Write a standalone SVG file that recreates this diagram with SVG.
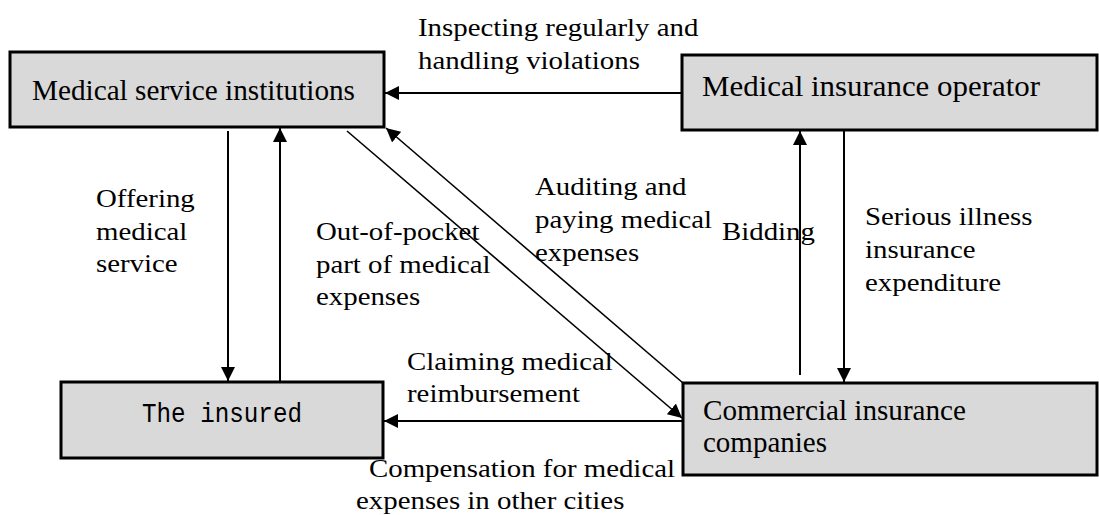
<svg xmlns="http://www.w3.org/2000/svg" width="1099" height="515" viewBox="0 0 1099 515">
<defs>
<style>
.box{fill:#d9d9d9;stroke:#000;stroke-width:3}
.bt{font-family:"Liberation Serif","Times New Roman",serif;font-size:29px;fill:#000}
.mono{font-family:"Liberation Mono","Courier New",monospace;font-size:27px;fill:#000}
.lbl{font-family:"Liberation Serif","Times New Roman",serif;font-size:26px;fill:#000}
.c{stroke:#000;stroke-width:2;fill:none}
.d{stroke:#000;stroke-width:1.6;fill:none}
</style>
<marker id="ah" markerUnits="userSpaceOnUse" markerWidth="15" markerHeight="15" refX="14" refY="7" orient="auto" viewBox="0 0 15 15">
<path d="M0,0 L14,7 L0,14 z" fill="#000"/>
</marker>
</defs>
<rect width="1099" height="515" fill="#fff"/>
<g id="connectors">
<line class="c" x1="682" y1="93" x2="385" y2="93" marker-end="url(#ah)"/>
<line class="c" x1="228" y1="131" x2="228" y2="381" marker-end="url(#ah)"/>
<line class="c" x1="280" y1="382" x2="280" y2="128" marker-end="url(#ah)"/>
<line class="d" x1="347" y1="131" x2="682" y2="418" marker-end="url(#ah)"/>
<line class="d" x1="683" y1="383" x2="386" y2="128" marker-end="url(#ah)"/>
<line class="c" x1="683" y1="421" x2="384" y2="421" marker-end="url(#ah)"/>
<line class="c" x1="800" y1="375" x2="800" y2="131" marker-end="url(#ah)"/>
<line class="c" x1="844" y1="130" x2="844" y2="382" marker-end="url(#ah)"/>
<g id="labels">
<text class="lbl" transform="translate(418,36) scale(1.11,1)"><tspan x="0" y="0">Inspecting regularly and</tspan><tspan x="0" y="33">handling violations</tspan></text>
<text class="lbl" transform="translate(96,207) scale(1.11,1)"><tspan x="0" y="0">Offering</tspan><tspan x="0" y="33">medical</tspan><tspan x="0" y="65">service</tspan></text>
<text class="lbl" transform="translate(316,240) scale(1.11,1)"><tspan x="0" y="0">Out-of-pocket</tspan><tspan x="0" y="33">part of medical</tspan><tspan x="0" y="65">expenses</tspan></text>
<text class="lbl" transform="translate(535,195) scale(1.11,1)"><tspan x="0" y="0">Auditing and</tspan><tspan x="0" y="33">paying medical</tspan><tspan x="0" y="66">expenses</tspan></text>
<text class="lbl" transform="translate(722,240) scale(1.11,1)">Bidding</text>
<text class="lbl" transform="translate(865,225) scale(1.11,1)"><tspan x="0" y="0">Serious illness</tspan><tspan x="0" y="33">insurance</tspan><tspan x="0" y="66">expenditure</tspan></text>
<text class="lbl" transform="translate(407,370) scale(1.11,1)"><tspan x="0" y="0">Claiming medical</tspan><tspan x="0" y="32">reimbursement</tspan></text>
<text class="lbl" transform="translate(369,477) scale(1.11,1)"><tspan x="0" y="0">Compensation for medical</tspan><tspan x="-11.7" y="32">expenses in other cities</tspan></text>
</g>
</g>
<g id="node-medical-service">
<rect class="box" x="10" y="52" width="374" height="75"/>
<text class="bt" x="32" y="100" textLength="323" lengthAdjust="spacingAndGlyphs">Medical service institutions</text>
</g>
<g id="node-insurance-operator">
<rect class="box" x="682" y="55" width="415" height="75"/>
<text class="bt" x="702" y="96" textLength="338" lengthAdjust="spacingAndGlyphs">Medical insurance operator</text>
</g>
<g id="node-insured">
<rect class="box" x="61" y="382" width="322" height="76"/>
<text class="mono" x="142" y="422" textLength="160" lengthAdjust="spacingAndGlyphs">The insured</text>
</g>
<g id="node-commercial">
<rect class="box" x="683" y="383" width="414" height="92"/>
<text class="bt" x="703" y="420" textLength="263" lengthAdjust="spacingAndGlyphs">Commercial insurance</text>
<text class="bt" x="703" y="452">companies</text>
</g>
</svg>
